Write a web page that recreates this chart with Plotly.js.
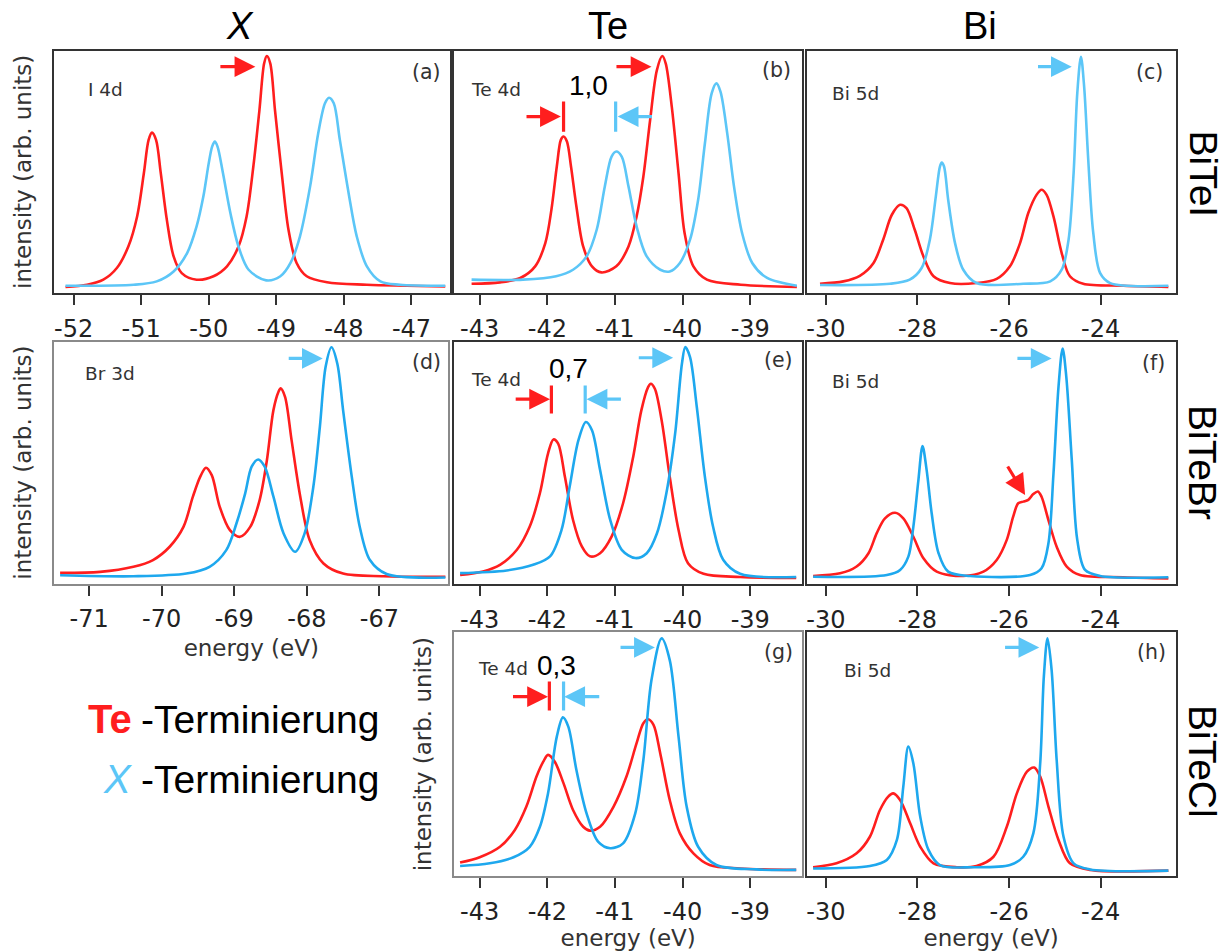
<!DOCTYPE html>
<html><head><meta charset="utf-8">
<script src="https://cdn.plot.ly/plotly-3.0.1.min.js"></script>
<style>html,body{margin:0;padding:0;background:#fff}#chart{width:1227px;height:951px}</style>
</head><body><div id="chart"></div>
<script>
// ---------- data (energy in eV, intensity in arb. units) ----------
// (a) BiTeI, I 4d
const aTeE = [-52.12,-51.80,-51.56,-51.36,-51.19,-51.06,-50.96,-50.89,-50.84,-50.78,-50.71,-50.62,-50.52,-50.40,-50.18,-49.93,-49.73,-49.56,-49.44,-49.34,-49.25,-49.18,-49.14,-49.09,-49.02,-48.92,-48.82,-48.70,-48.55,-48.25,-47.66,-46.50];
const aTeI = [0.025,0.034,0.055,0.103,0.192,0.316,0.495,0.632,0.662,0.632,0.495,0.302,0.151,0.082,0.055,0.069,0.110,0.192,0.316,0.522,0.755,0.948,0.978,0.948,0.755,0.495,0.261,0.124,0.069,0.044,0.034,0.027];
const aXE = [-52.12,-51.11,-50.77,-50.52,-50.32,-50.18,-50.08,-50.00,-49.95,-49.91,-49.87,-49.79,-49.68,-49.56,-49.41,-49.15,-48.94,-48.79,-48.65,-48.50,-48.38,-48.28,-48.22,-48.15,-48.06,-47.93,-47.81,-47.66,-47.46,-47.17,-46.50];
const aXI = [0.030,0.034,0.048,0.089,0.165,0.275,0.398,0.536,0.604,0.625,0.604,0.495,0.330,0.192,0.096,0.052,0.069,0.124,0.234,0.440,0.659,0.783,0.806,0.783,0.632,0.412,0.234,0.110,0.048,0.034,0.030];
// (b) BiTeI, Te 4d
const bTeE = [-43.12,-42.70,-42.40,-42.18,-42.03,-41.94,-41.86,-41.80,-41.76,-41.71,-41.65,-41.57,-41.47,-41.34,-41.20,-40.98,-40.80,-40.68,-40.58,-40.48,-40.38,-40.30,-40.25,-40.16,-40.06,-39.97,-39.84,-39.64,-39.14,-38.31];
const bTeI = [0.038,0.044,0.062,0.110,0.206,0.343,0.522,0.632,0.646,0.625,0.522,0.357,0.192,0.110,0.085,0.110,0.192,0.316,0.481,0.714,0.920,0.978,0.948,0.769,0.495,0.247,0.110,0.055,0.034,0.025];
const bXE = [-43.12,-42.36,-41.87,-41.62,-41.42,-41.27,-41.15,-41.05,-40.98,-40.90,-40.80,-40.68,-40.53,-40.33,-40.19,-40.04,-39.89,-39.77,-39.67,-39.57,-39.50,-39.44,-39.34,-39.24,-39.12,-38.97,-38.75,-38.31];
const bXI = [0.055,0.055,0.069,0.096,0.151,0.261,0.440,0.563,0.584,0.563,0.440,0.275,0.151,0.096,0.089,0.124,0.220,0.385,0.618,0.824,0.865,0.831,0.659,0.440,0.247,0.124,0.062,0.030];
// (c) BiTeI, Bi 5d
const cTeE = [-30.13,-29.62,-29.26,-28.96,-28.75,-28.56,-28.38,-28.24,-28.06,-27.87,-27.65,-27.29,-26.71,-26.27,-25.98,-25.76,-25.58,-25.40,-25.29,-25.18,-25.03,-24.85,-24.67,-24.38,-23.50,-22.52];
const cTeI = [0.038,0.048,0.071,0.124,0.220,0.323,0.364,0.350,0.261,0.151,0.069,0.041,0.041,0.058,0.110,0.206,0.330,0.405,0.426,0.405,0.316,0.165,0.069,0.038,0.030,0.025];
const cXE = [-30.13,-28.60,-28.17,-27.91,-27.73,-27.60,-27.51,-27.47,-27.42,-27.33,-27.18,-27.00,-26.71,-25.69,-25.10,-24.85,-24.70,-24.59,-24.51,-24.43,-24.36,-24.27,-24.16,-24.01,-23.79,-22.52];
const cXI = [0.033,0.038,0.055,0.103,0.220,0.398,0.522,0.538,0.522,0.385,0.206,0.096,0.041,0.038,0.048,0.096,0.220,0.495,0.824,0.975,0.852,0.549,0.247,0.082,0.041,0.030];
// (d) BiTeBr, Br 3d
const dTeE = [-71.40,-70.85,-70.39,-70.12,-69.89,-69.70,-69.57,-69.47,-69.39,-69.31,-69.20,-69.06,-68.92,-68.78,-68.65,-68.55,-68.46,-68.39,-68.36,-68.30,-68.21,-68.09,-67.96,-67.77,-67.50,-66.94,-66.09];
const dTeI = [0.044,0.048,0.069,0.097,0.152,0.234,0.359,0.441,0.479,0.448,0.317,0.221,0.193,0.234,0.345,0.510,0.717,0.793,0.807,0.772,0.593,0.359,0.179,0.083,0.041,0.030,0.028];
const dXE = [-71.40,-70.39,-69.66,-69.34,-69.11,-68.97,-68.85,-68.76,-68.67,-68.58,-68.46,-68.32,-68.16,-68.03,-67.91,-67.82,-67.74,-67.66,-67.58,-67.50,-67.38,-67.27,-67.13,-66.90,-66.09];
const dXI = [0.034,0.030,0.041,0.069,0.138,0.248,0.372,0.483,0.513,0.483,0.359,0.207,0.131,0.207,0.400,0.648,0.897,0.977,0.910,0.717,0.441,0.234,0.097,0.039,0.025];
// (e) BiTeBr, Te 4d
const eTeE = [-43.29,-42.95,-42.70,-42.45,-42.26,-42.11,-41.99,-41.91,-41.84,-41.74,-41.62,-41.49,-41.37,-41.22,-41.05,-40.88,-40.73,-40.61,-40.51,-40.47,-40.41,-40.31,-40.19,-40.06,-39.92,-39.69,-39.15,-38.32];
const eTeI = [0.037,0.052,0.079,0.141,0.237,0.374,0.538,0.596,0.579,0.442,0.264,0.155,0.114,0.127,0.195,0.333,0.525,0.716,0.812,0.826,0.805,0.675,0.442,0.223,0.086,0.042,0.029,0.025];
const eXE = [-43.29,-42.60,-42.21,-41.96,-41.79,-41.67,-41.54,-41.43,-41.34,-41.22,-41.07,-40.90,-40.70,-40.53,-40.38,-40.24,-40.11,-40.01,-39.96,-39.89,-39.79,-39.67,-39.55,-39.40,-39.15,-38.32];
const eXI = [0.045,0.056,0.079,0.114,0.223,0.401,0.593,0.668,0.634,0.470,0.264,0.141,0.107,0.127,0.208,0.374,0.621,0.908,0.977,0.936,0.730,0.442,0.237,0.100,0.042,0.029];
// (f) BiTeBr, Bi 5d
const fTeE = [-30.28,-29.69,-29.33,-29.07,-28.89,-28.71,-28.49,-28.31,-28.09,-27.87,-27.58,-27.00,-26.56,-26.27,-26.05,-25.91,-25.80,-25.69,-25.58,-25.47,-25.37,-25.29,-25.14,-24.96,-24.74,-24.45,-23.50,-22.52];
const fTeI = [0.033,0.044,0.072,0.127,0.210,0.271,0.294,0.271,0.195,0.106,0.051,0.033,0.051,0.099,0.182,0.278,0.333,0.340,0.347,0.371,0.382,0.360,0.264,0.154,0.072,0.037,0.028,0.023];
const fXE = [-30.28,-28.67,-28.38,-28.20,-28.09,-27.98,-27.89,-27.80,-27.69,-27.54,-27.33,-26.85,-25.54,-25.29,-25.14,-25.03,-24.92,-24.83,-24.75,-24.63,-24.51,-24.34,-24.01,-22.52];
const fXI = [0.030,0.037,0.058,0.113,0.237,0.429,0.569,0.470,0.292,0.127,0.051,0.033,0.037,0.065,0.168,0.454,0.814,0.972,0.856,0.512,0.182,0.058,0.033,0.028];
// (g) BiTeCl, Te 4d
const gTeE = [-43.29,-43.00,-42.70,-42.48,-42.31,-42.16,-42.06,-41.99,-41.89,-41.76,-41.62,-41.47,-41.37,-41.22,-41.02,-40.83,-40.68,-40.58,-40.51,-40.43,-40.33,-40.19,-40.04,-39.84,-39.60,-39.15,-38.32];
const gTeI = [0.055,0.077,0.120,0.189,0.285,0.408,0.469,0.497,0.469,0.380,0.271,0.202,0.186,0.202,0.285,0.408,0.545,0.627,0.643,0.620,0.503,0.312,0.175,0.093,0.045,0.031,0.025];
const gXE = [-43.29,-42.85,-42.50,-42.26,-42.11,-41.99,-41.86,-41.77,-41.69,-41.57,-41.42,-41.25,-41.07,-40.88,-40.70,-40.58,-40.46,-40.31,-40.19,-40.06,-39.94,-39.77,-39.50,-38.91,-38.32];
const gXI = [0.041,0.052,0.077,0.120,0.202,0.339,0.572,0.651,0.613,0.435,0.257,0.141,0.114,0.134,0.257,0.476,0.804,0.975,0.886,0.572,0.285,0.120,0.045,0.027,0.025];
// (h) BiTeCl, Bi 5d
const hTeE = [-30.28,-29.77,-29.33,-29.04,-28.82,-28.64,-28.53,-28.38,-28.16,-27.94,-27.65,-27.14,-26.71,-26.34,-26.05,-25.83,-25.61,-25.45,-25.32,-25.14,-24.92,-24.67,-24.23,-22.52];
const hTeI = [0.036,0.052,0.093,0.161,0.271,0.326,0.339,0.312,0.216,0.120,0.052,0.036,0.041,0.079,0.202,0.339,0.428,0.445,0.408,0.285,0.148,0.052,0.025,0.022];
const hXE = [-30.28,-29.04,-28.67,-28.45,-28.31,-28.20,-28.09,-27.94,-27.76,-27.51,-26.78,-25.98,-25.69,-25.47,-25.32,-25.24,-25.16,-25.07,-24.96,-24.81,-24.59,-24.23,-22.52];
const hXI = [0.031,0.041,0.066,0.148,0.367,0.531,0.462,0.243,0.107,0.045,0.036,0.045,0.079,0.175,0.462,0.818,0.975,0.845,0.476,0.161,0.052,0.027,0.022];

// tick values / labels
const ticksI4d = [-52,-51,-50,-49,-48,-47];
const ticksBr3d = [-71,-70,-69,-68,-67];
const ticksTe4d = [-43,-42,-41,-40,-39];
const ticksBi5d = [-30,-28,-26,-24];
const lab = v => v.map(t => '-' + Math.abs(t));

// row / column labels
const columns = ['<i>X</i>', 'Te', 'Bi'];
const rows = ['BiTeI', 'BiTeBr', 'BiTeCl'];
const panelLetters = ['(a)','(b)','(c)','(d)','(e)','(f)','(g)','(h)'];
const coreLevels = ['I 4d','Te 4d','Bi 5d','Br 3d','Te 4d','Bi 5d','Te 4d','Bi 5d'];
const shifts = ['1,0','0,7','0,3'];

// ---------- styling ----------
const RED = '#ff1e1e';
const BLUE1 = '#5cc6f7';
const BLUE2 = '#1ea8ee';
const W = 1227, H = 951;
const PX = v => v / W, PY = v => 1 - v / H;
const dark = '#333333', light = '#8a8a8a';
const tickFont = {family: 'DejaVu Sans', size: 24, color: '#222'};
const titleFont = {family: 'DejaVu Sans', size: 23, color: '#333'};

const panels = [
  {k:1, xd:[54,450],   yd:[50.7,293],  rng:[-52.29,-46.43], tv:ticksI4d,  te:[aTeE,aTeI], xx:[aXE,aXI], blue:BLUE1, lc:dark,  ytitle:true},
  {k:2, xd:[454,802.3],yd:[50.7,293],  rng:[-43.38,-38.23], tv:ticksTe4d, te:[bTeE,bTeI], xx:[bXE,bXI], blue:BLUE1, lc:dark},
  {k:3, xd:[806.7,1175.7],yd:[50.7,293],rng:[-30.42,-22.36],tv:ticksBi5d, te:[cTeE,cTeI], xx:[cXE,cXI], blue:BLUE1, lc:dark},
  {k:4, xd:[54.3,448.3],yd:[341.7,583.5],rng:[-71.48,-66.05],tv:ticksBr3d,te:[dTeE,dTeI], xx:[dXE,dXI], blue:BLUE2, lc:light, ytitle:true, xtitle:true},
  {k:5, xd:[454,802.3],yd:[341.5,584],rng:[-43.38,-38.23], tv:ticksTe4d, te:[eTeE,eTeI], xx:[eXE,eXI], blue:BLUE2, lc:dark},
  {k:6, xd:[806.7,1175.7],yd:[341.7,584],rng:[-30.42,-22.36],tv:ticksBi5d,te:[fTeE,fTeI], xx:[fXE,fXI], blue:BLUE2, lc:dark},
  {k:7, xd:[454,802.3],yd:[632.3,876],rng:[-43.38,-38.23], tv:ticksTe4d, te:[gTeE,gTeI], xx:[gXE,gXI], blue:BLUE2, lc:light, ytitle:true, xtitle:true},
  {k:8, xd:[806.7,1175.7],yd:[632.3,876],rng:[-30.42,-22.36],tv:ticksBi5d,te:[hTeE,hTeI], xx:[hXE,hXI], blue:BLUE2, lc:dark, xtitle:true}
];

const traces = [];
const layout = {
  width: W, height: H, margin: {l:0, r:0, t:0, b:0},
  paper_bgcolor: '#fff', plot_bgcolor: '#fff', showlegend: false,
  annotations: [], shapes: []
};

panels.forEach(p => {
  const sx = p.k === 1 ? '' : String(p.k);
  traces.push({x:p.te[0], y:p.te[1], xaxis:'x'+sx, yaxis:'y'+sx, mode:'lines', name:'Te-Terminierung',
    line:{color:RED, width:2.6, shape:'spline', smoothing:0.9}, hoverinfo:'skip'});
  traces.push({x:p.xx[0], y:p.xx[1], xaxis:'x'+sx, yaxis:'y'+sx, mode:'lines', name:'X-Terminierung',
    line:{color:p.blue, width:2.6, shape:'spline', smoothing:0.9}, hoverinfo:'skip'});
  layout['xaxis'+sx] = {
    domain:[PX(p.xd[0]), PX(p.xd[1])], range:p.rng, anchor:'y'+sx,
    tickmode:'array', tickvals:p.tv, ticktext:lab(p.tv),
    ticks:'outside', ticklen:10, tickwidth:2, tickcolor:'#333', ticklabelstandoff:3,
    showline:true, mirror:true, linecolor:p.lc, linewidth:2,
    showgrid:false, zeroline:false, tickfont:tickFont, automargin:false, fixedrange:true,
    title: p.xtitle ? {text:'energy (eV)', font:titleFont, standoff:8} : {text:''}
  };
  layout['yaxis'+sx] = {
    domain:[PY(p.yd[1]), PY(p.yd[0])], range:[0,1], anchor:'x'+sx,
    showline:true, mirror:true, linecolor:p.lc, linewidth:2,
    showticklabels:false, ticks:'', showgrid:false, zeroline:false, automargin:false, fixedrange:true,
    title: p.ytitle ? {text:'intensity (arb. units)', font:titleFont, standoff:14} : {text:''}
  };
});

// panel letters and core-level labels
const letterPos = [[426,72],[776.7,70],[1149,71.7],[426,361.7],[778.3,360],[1153,363],[778.3,651.7],[1151.7,651.7]];
const corePos = [[86,90],[469,90],[830,93],[83,373],[469,380],[830,382],[476,668],[842,670]];
panelLetters.forEach((t,i) => layout.annotations.push({xref:'paper', yref:'paper', x:PX(letterPos[i][0]), y:PY(letterPos[i][1]),
  text:t, showarrow:false, xanchor:'center', yanchor:'middle', font:{family:'DejaVu Sans', size:20.5, color:'#333'}}));
coreLevels.forEach((t,i) => layout.annotations.push({xref:'paper', yref:'paper', x:PX(corePos[i][0]), y:PY(corePos[i][1]),
  text:t, showarrow:false, xanchor:'left', yanchor:'middle', font:{family:'DejaVu Sans', size:18.5, color:'#333'}}));

// column headers and row labels
const colPos = [240, 608, 980];
columns.forEach((t,i) => layout.annotations.push({xref:'paper', yref:'paper', x:PX(colPos[i]), y:PY(26),
  text:t, showarrow:false, xanchor:'center', yanchor:'middle', font:{family:'Liberation Sans', size:38, color:'#000'}}));
const rowPos = [173.5, 462, 761];
rows.forEach((t,i) => layout.annotations.push({xref:'paper', yref:'paper', x:PX(1203), y:PY(rowPos[i]),
  text:t, textangle:90, showarrow:false, xanchor:'center', yanchor:'middle', font:{family:'Liberation Sans', size:39, color:'#000'}}));

// legend text
layout.annotations.push({xref:'paper', yref:'paper', x:PX(134), y:PY(719), text:'<b>Te</b>', showarrow:false, xanchor:'right', yanchor:'middle', font:{family:'Liberation Sans', size:40, color:RED}});
layout.annotations.push({xref:'paper', yref:'paper', x:PX(134), y:PY(779), text:'<i>X</i>', showarrow:false, xanchor:'right', yanchor:'middle', font:{family:'Liberation Sans', size:40, color:BLUE1}});
layout.annotations.push({xref:'paper', yref:'paper', x:PX(139), y:PY(719), text:'-Terminierung', showarrow:false, xanchor:'left', yanchor:'middle', font:{family:'Liberation Sans', size:39, color:'#000'}});
layout.annotations.push({xref:'paper', yref:'paper', x:PX(139), y:PY(779), text:'-Terminierung', showarrow:false, xanchor:'left', yanchor:'middle', font:{family:'Liberation Sans', size:39, color:'#000'}});

// arrows (data coordinates of their panel)
function arrow(k, x0, y0, x1, y1, color) {
  const sx = k === 1 ? '' : String(k);
  layout.annotations.push({xref:'x'+sx, yref:'y'+sx, axref:'x'+sx, ayref:'y'+sx, x:x1, y:y1, ax:x0, ay:y0,
    text:'', showarrow:true, arrowhead:2, arrowsize:1.3, arrowwidth:3.2, arrowcolor:color, standoff:0});
}
function bar(k, x, y0, y1, color) {
  const sx = k === 1 ? '' : String(k);
  layout.shapes.push({type:'line', xref:'x'+sx, yref:'y'+sx, x0:x, x1:x, y0:y0, y1:y1, line:{color:color, width:3.2}});
}
arrow(1, -49.85, 0.934, -49.31, 0.934, RED);
arrow(2, -41.00, 0.934, -40.46, 0.934, RED);
arrow(2, -42.33, 0.728, -41.80, 0.728, RED);
arrow(2, -40.43, 0.728, -40.96, 0.728, BLUE1);
bar(2, -41.76, 0.666, 0.790, RED);
bar(2, -40.99, 0.666, 0.790, BLUE1);
arrow(3, -25.40, 0.934, -24.63, 0.934, BLUE1);
arrow(4, -68.27, 0.931, -67.78, 0.931, BLUE1);
arrow(5, -40.67, 0.933, -40.14, 0.933, BLUE1);
arrow(5, -42.49, 0.762, -41.96, 0.762, RED);
arrow(5, -40.89, 0.762, -41.42, 0.762, BLUE1);
bar(5, -41.94, 0.703, 0.819, RED);
bar(5, -41.44, 0.703, 0.819, BLUE1);
arrow(6, -25.85, 0.931, -25.07, 0.931, BLUE1);
arrow(6, -26.05, 0.491, -25.65, 0.367, RED);
arrow(7, -40.94, 0.938, -40.41, 0.938, BLUE1);
arrow(7, -42.53, 0.736, -41.99, 0.736, RED);
arrow(7, -41.21, 0.736, -41.75, 0.736, BLUE1);
bar(7, -41.97, 0.679, 0.798, RED);
bar(7, -41.76, 0.679, 0.798, BLUE1);
arrow(8, -26.12, 0.938, -25.34, 0.938, BLUE1);

// shift labels
const shiftPos = [[588.3,85],[568.3,368.3],[556.7,665]];
shifts.forEach((t,i) => layout.annotations.push({xref:'paper', yref:'paper', x:PX(shiftPos[i][0]), y:PY(shiftPos[i][1]),
  text:t, showarrow:false, xanchor:'center', yanchor:'middle', font:{family:'Liberation Sans', size:28, color:'#000'}}));

Plotly.newPlot('chart', traces, layout, {staticPlot:true, displayModeBar:false});
</script></body></html>
